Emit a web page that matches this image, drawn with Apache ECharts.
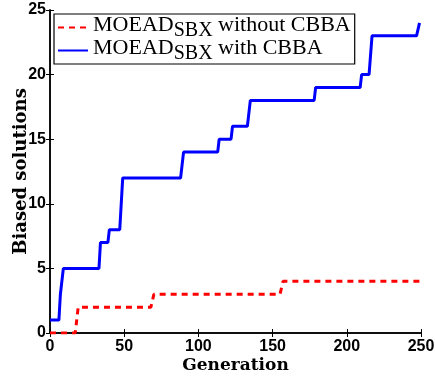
<!DOCTYPE html>
<html><head><meta charset="utf-8">
<script src="https://cdn.jsdelivr.net/npm/echarts@6/dist/echarts.min.js"></script>
<style>html,body{margin:0;padding:0;background:#fff}#c{width:435px;height:376px}</style>
</head><body><div id="c"></div>
<script>
// Step change points (generation, biased solutions)
const blueGen = [0, 6, 7, 9, 33, 34, 39, 40, 47, 49, 88, 90, 113, 114, 122, 123, 133, 135, 178, 179, 209, 210, 215, 217, 247, 249];
const blueVal = [1, 1, 3, 5, 5, 7, 7, 8, 8, 12, 12, 14, 14, 15, 15, 16, 16, 18, 18, 19, 19, 20, 20, 23, 23, 24];
const redGen = [0, 17, 19, 68, 70, 155, 157, 250];
const redVal = [0, 0, 2, 2, 3, 3, 4, 4];
const xTicks = [0, 50, 100, 150, 200, 250];
const yTicks = [0, 5, 10, 15, 20, 25];
const seriesNames = ['MOEAD_SBX without CBBA', 'MOEAD_SBX with CBBA'];

const chart = echarts.init(document.getElementById('c'));
const pair = (g, v) => g.map((x, i) => [x, v[i]]);
const serif = 'Liberation Serif';
const nameFont = 'DejaVu Serif';
const tickLabel = {fontFamily: 'Liberation Sans', fontWeight: 'bold', fontSize: 16, color: '#000'};
const axisLine = {show: true, lineStyle: {color: '#000', width: 1.5}};
const axisTick = {show: true, inside: true, length: 4, lineStyle: {color: '#000', width: 1}};
chart.setOption({
  animation: false,
  grid: {left: 50, right: 14, top: 10, bottom: 43, containLabel: false, outerBoundsMode: 'none'},
  legend: {
    orient: 'vertical', left: 54, top: 14,
    borderColor: '#000', borderWidth: 1.2, padding: [0, 4, 0, 3],
    itemWidth: 30, itemHeight: 14, itemGap: -4,
    itemStyle: {opacity: 0},
    data: seriesNames,
    formatter: n => {
      const parts = n.split('_SBX');
      return '{a|' + parts[0] + '}{s|SBX}{a|' + parts[1] + '}';
    },
    textStyle: {
      rich: {
        a: {fontFamily: serif, fontSize: 22, color: '#000', verticalAlign: 'top'},
        s: {fontFamily: serif, fontSize: 20, color: '#000', verticalAlign: 'bottom', padding: [7, 0, 0, 0]}
      }
    }
  },
  xAxis: [{
    type: 'value', min: 0, max: 250, interval: 50,
    name: 'Generation', nameLocation: 'middle', nameGap: 24, nameMoveOverlap: false,
    nameTextStyle: {fontFamily: nameFont, fontWeight: 'bold', fontSize: 17, color: '#000'},
    axisLine, axisTick, splitLine: {show: false},
    axisLabel: Object.assign({margin: 6}, tickLabel)
  }, {
    type: 'value', min: 0, max: 250, interval: 50, position: 'top',
    axisLine, axisTick, splitLine: {show: false}, axisLabel: {show: false}
  }],
  yAxis: [{
    type: 'value', min: 0, max: 25, interval: 5,
    name: 'Biased solutions', nameLocation: 'middle', nameGap: 20, nameMoveOverlap: false,
    nameTextStyle: {fontFamily: nameFont, fontWeight: 'bold', fontSize: 18, color: '#000'},
    axisLine, axisTick, splitLine: {show: false},
    axisLabel: Object.assign({margin: 4}, tickLabel)
  }, {
    type: 'value', min: 0, max: 25, interval: 5, position: 'right',
    axisLine, axisTick, splitLine: {show: false}, axisLabel: {show: false}
  }],
  series: [{
    name: seriesNames[0], type: 'line', data: pair(redGen, redVal),
    symbol: 'none', lineStyle: {color: '#ff0000', width: 3, type: [6, 5]}, itemStyle: {color: '#ff0000'}, z: 3
  }, {
    name: seriesNames[1], type: 'line', data: pair(blueGen, blueVal),
    symbol: 'none', lineStyle: {color: '#0000ff', width: 3}, itemStyle: {color: '#0000ff'}, z: 2
  }]
});
</script></body></html>
